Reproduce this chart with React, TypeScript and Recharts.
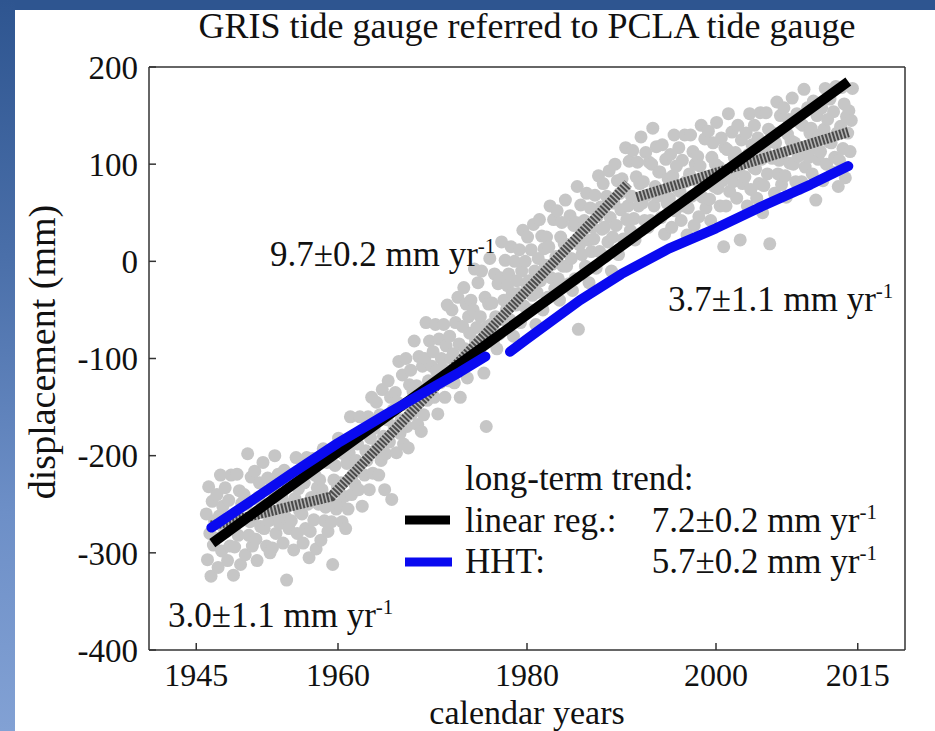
import React from 'react';
import { ComposedChart, XAxis, YAxis, Line, Scatter } from 'recharts';

const FONT = 'Liberation Serif, DejaVu Serif, Times New Roman, serif';

const titleText = 'GRIS tide gauge referred to PCLA tide gauge';
const xLabel = 'calendar years';
const yLabel = 'displacement (mm)';

const xTicks = [1945, 1960, 1980, 2000, 2015];
const yTicks = [-400, -300, -200, -100, 0, 100, 200];
const xDomain: [number, number] = [1940, 2020];
const yDomain: [number, number] = [-400, 200];

// GRIS relative sea level (mm), sampled evenly through each year
const gaugeByYear: [number, number[]][] = [
  [1946, [-260, -307, -232, -280, -324, -247, -292, -267]],
  [1947, [-285, -240, -315, -262, -220, -298, -252, -275]],
  [1948, [-233, -278, -308, -246, -293, -220, -268, -323]],
  [1949, [-294, -259, -219, -282, -236, -312, -249, -266]],
  [1950, [-240, -302, -250, -198, -282, -268, -222, -293]],
  [1951, [-263, -216, -286, -308, -243, -228, -273, -250]],
  [1952, [-207, -275, -253, -293, -223, -267, -300, -233]],
  [1953, [-295, -237, -200, -280, -260, -219, -270, -245]],
  [1954, [-243, -290, -215, -263, -328, -230, -275, -250]],
  [1955, [-267, -222, -297, -244, -202, -280, -234, -257]],
  [1956, [-215, -260, -290, -228, -275, -202, -250, -305]],
  [1957, [-278, -243, -203, -266, -220, -296, -233, -250]],
  [1958, [-225, -287, -235, -193, -267, -253, -207, -278]],
  [1959, [-245, -198, -268, -312, -225, -210, -255, -232]],
  [1960, [-182, -250, -228, -268, -198, -242, -275, -208]],
  [1961, [-255, -197, -160, -240, -220, -179, -230, -205]],
  [1962, [-188, -235, -160, -208, -252, -175, -220, -195]],
  [1963, [-205, -160, -235, -182, -140, -218, -172, -195]],
  [1964, [-145, -190, -220, -158, -205, -132, -180, -235]],
  [1965, [-198, -163, -123, -186, -140, -245, -153, -170]],
  [1966, [-135, -197, -145, -103, -177, -163, -117, -188]],
  [1967, [-147, -100, -170, -192, -127, -112, -157, -134]],
  [1968, [-82, -150, -128, -168, -98, -142, -175, -108]],
  [1969, [-158, -100, -63, -143, -123, -82, -133, -108]],
  [1970, [-93, -140, -65, -113, -157, -80, -125, -100]],
  [1971, [-110, -65, -140, -87, -45, -123, -77, -100]],
  [1972, [-50, -95, -125, -63, -110, -37, -85, -140]],
  [1973, [-102, -67, -27, -90, -44, -120, -57, -74]],
  [1974, [-40, -102, -50, -8, -82, -68, -22, -93]],
  [1975, [-57, -10, -80, -115, -37, -170, -67, -44]],
  [1976, [3, -65, -43, -83, -13, -57, -90, -23]],
  [1977, [-75, -17, 20, -60, -40, 1, -50, -25]],
  [1978, [-13, -60, 15, -33, -77, 0, -45, -20]],
  [1979, [-33, 12, -63, -10, 32, -46, 0, -23]],
  [1980, [25, -20, -50, 12, -35, 38, -10, -65]],
  [1981, [-32, 3, 43, -20, 26, -50, 13, -4]],
  [1982, [25, -37, 15, 57, -17, -3, 43, -28]],
  [1983, [5, 52, -18, -40, 25, 40, -5, 18]],
  [1984, [63, -5, 17, -23, 47, 3, -30, 37]],
  [1985, [-18, 40, 77, -70, 17, 58, 7, 32]],
  [1986, [42, -5, 70, 22, -22, 55, 10, 35]],
  [1987, [23, 68, -7, 46, 88, 10, 56, 33]],
  [1988, [80, 35, 5, 67, 20, 93, 45, -10]],
  [1989, [25, 60, 100, 37, 83, 7, 70, 53]],
  [1990, [85, 23, 75, 117, 43, 57, 103, 32]],
  [1991, [67, 114, 44, 22, 87, 102, 57, 80]],
  [1992, [128, 60, 82, 42, 112, 68, 35, 102]],
  [1993, [42, 100, 137, 57, 77, 118, 67, 92]],
  [1994, [92, 45, 120, 72, 28, 105, 60, 85]],
  [1995, [65, 110, 35, 88, 130, 52, 98, 75]],
  [1996, [117, 72, 42, 104, 57, 130, 82, 27]],
  [1997, [55, 90, 130, 67, 113, 37, 100, 83]],
  [1998, [108, 46, 98, 140, 66, 80, 126, 55]],
  [1999, [87, 134, 64, 42, 107, 122, 77, 100]],
  [2000, [143, 75, 97, 57, 127, 83, 15, 117]],
  [2001, [57, 115, 152, 72, 92, 133, 82, 107]],
  [2002, [112, 65, 140, 92, 22, 125, 80, 105]],
  [2003, [87, 132, 57, 110, 152, 74, 120, 97]],
  [2004, [140, 95, 65, 127, 80, 153, 105, 50]],
  [2005, [78, 113, 153, 90, 136, 18, 123, 106]],
  [2006, [132, 70, 122, 164, 90, 104, 150, 79]],
  [2007, [111, 158, 88, 66, 131, 146, 101, 124]],
  [2008, [168, 100, 122, 82, 152, 108, 75, 142]],
  [2009, [82, 140, 177, 97, 117, 158, 107, 132]],
  [2010, [137, 90, 165, 117, 63, 150, 105, 130]],
  [2011, [113, 158, 83, 136, 178, 100, 146, 123]],
  [2012, [167, 122, 92, 154, 107, 180, 132, 77]],
  [2013, [104, 139, 179, 116, 162, 86, 149, 132]],
  [2014, [155, 113, 145, 178]],
];

// Linear regression trend [year, mm]
const linearRegression: [number, number][] = [
  [1946.7, -290],
  [2014.0, 185],
];

// HHT trend [year, mm]; null marks the data gap
const hhtTrend: [number, number | null][] = [
  [1946.6, -274], [1950, -252], [1955, -219], [1960, -187], [1965, -158],
  [1970, -130], [1972.9, -114], [1975.6, -98], [1976.9, null],
  [1978.2, -93], [1980, -80], [1985.6, -40], [1990, -13], [1995, 13],
  [2000, 34], [2004.5, 55], [2010, 79], [2014, 98],
];

// Piecewise linear fit [year, mm]; null marks the break
const piecewiseTrend: [number, number | null][] = [
  [1946.6, -272], [1959.3, -242], [1990.7, 80], [1991.1, null],
  [1991.6, 66], [2014.0, 133],
];

const toRows = (arr: [number, number | null][]) => arr.map(([t, v]) => ({ t, v }));
const gaugeRows = gaugeByYear.flatMap(([year, vals]) =>
  vals.map((v, i) => ({ t: year + (i + 0.5) / 8, v }))
);

const axisStroke = { stroke: '#333', strokeWidth: 1.5 };
const xTickStyle = { fontSize: 32, fill: '#111', fontFamily: FONT };
const yTickStyle = { fontSize: 33, fill: '#111', fontFamily: FONT };

const GrayDot = (p: any) =>
  p.cx == null || p.cy == null ? null : <circle cx={p.cx} cy={p.cy} r={6.5} fill="#c6c6c6" />;

const Sup = ({ children }: { children: React.ReactNode }) => (
  <tspan dy={-13} fontSize={21}>{children}</tspan>
);

const layer: React.CSSProperties = { position: 'absolute', left: 0, top: 0 };

export default function App() {
  return (
    <div style={{ position: 'absolute', left: 0, top: 0, width: 935, height: 731, background: '#fff', overflow: 'hidden' }}>
      <div style={{ position: 'absolute', left: 0, top: 0, width: 935, height: 10, background: '#2e5590' }} />
      <div
        style={{
          position: 'absolute', left: 0, top: 0, width: 15, height: 731,
          background: 'linear-gradient(to bottom, #2e5590 0%, #4a6fa9 35%, #6d8fc7 70%, #82a1d4 100%)',
        }}
      />
      {/* gauge samples (drawn beneath the trend lines) */}
      <div style={layer}>
        <ComposedChart width={935} height={731} margin={{ top: 67, right: 30, bottom: 81, left: 149 }}>
          <XAxis xAxisId="b" type="number" dataKey="t" domain={xDomain} allowDataOverflow hide />
          <YAxis yAxisId="l" type="number" domain={yDomain} allowDataOverflow hide />
          <Scatter
            xAxisId="b" yAxisId="l" data={gaugeRows} dataKey="v"
            shape={GrayDot} isAnimationActive={false}
          />
        </ComposedChart>
      </div>
      <div style={layer}>
        <ComposedChart width={935} height={731} margin={{ top: 66, right: 29, bottom: 21, left: 49 }}>
          <XAxis
            xAxisId="b" type="number" dataKey="t" orientation="bottom" domain={xDomain} ticks={xTicks}
            interval={0} allowDataOverflow height={60} tickSize={-7} tickMargin={20.5}
            axisLine={axisStroke} tickLine={axisStroke} tick={xTickStyle}
          />
          <XAxis
            xAxisId="t" type="number" dataKey="t" orientation="top" domain={xDomain} ticks={xTicks}
            interval={0} allowDataOverflow height={1} tickSize={-7}
            axisLine={axisStroke} tickLine={axisStroke} tick={false}
          />
          <YAxis
            yAxisId="l" type="number" orientation="left" domain={yDomain} ticks={yTicks}
            interval={0} allowDataOverflow width={100} tickSize={-7} tickMargin={18}
            axisLine={axisStroke} tickLine={axisStroke} tick={yTickStyle}
          />
          <YAxis
            yAxisId="r" type="number" orientation="right" domain={yDomain} ticks={yTicks}
            interval={0} allowDataOverflow width={1} tickSize={-7}
            axisLine={axisStroke} tickLine={axisStroke} tick={false}
          />
          <Line
            xAxisId="b" yAxisId="l" data={toRows(piecewiseTrend)} dataKey="v" type="linear"
            stroke="#b4b4b4" strokeWidth={10} dot={false} activeDot={false} connectNulls={false}
            isAnimationActive={false}
          />
          <Line
            xAxisId="b" yAxisId="l" data={toRows(piecewiseTrend)} dataKey="v" type="linear"
            stroke="#4a4a4a" strokeWidth={10} strokeDasharray="2 1.6" dot={false} activeDot={false}
            connectNulls={false} isAnimationActive={false}
          />
          <Line
            xAxisId="b" yAxisId="l" data={toRows(linearRegression)} dataKey="v" type="linear"
            stroke="#000" strokeWidth={10} dot={false} activeDot={false} isAnimationActive={false}
          />
          <Line
            xAxisId="b" yAxisId="l" data={toRows(hhtTrend)} dataKey="v" type="linear"
            stroke="#0a0af0" strokeWidth={10} strokeLinecap="round" strokeLinejoin="round"
            dot={false} activeDot={false} connectNulls={false} isAnimationActive={false}
          />
        </ComposedChart>
      </div>
      <svg width={935} height={731} style={{ position: 'absolute', left: 0, top: 0, pointerEvents: 'none' }}>
        <g fontFamily={FONT} fill="#111">
          <text x={527} y={38} fontSize={36} textAnchor="middle">{titleText}</text>
          <text x={527} y={723.5} fontSize={34} textAnchor="middle">{xLabel}</text>
          <text x={55} y={352} fontSize={38} textAnchor="middle" transform="rotate(-90 55 352)">{yLabel}</text>

          <text x={270} y={266} fontSize={35}>9.7±0.2 mm yr<Sup>-1</Sup></text>
          <text x={668} y={311} fontSize={35}>3.7±1.1 mm yr<Sup>-1</Sup></text>
          <text x={168} y={627} fontSize={35}>3.0±1.1 mm yr<Sup>-1</Sup></text>

          <text x={465} y={490} fontSize={35}>long-term trend:</text>
          <line x1={405} x2={450} y1={520} y2={520} stroke="#000" strokeWidth={9} />
          <text x={465} y={532} fontSize={35}>linear reg.:</text>
          <text x={877} y={532} fontSize={35} textAnchor="end">7.2±0.2 mm yr<Sup>-1</Sup></text>
          <line x1={405} x2={452} y1={562} y2={562} stroke="#0a0af0" strokeWidth={9} />
          <text x={465} y={573} fontSize={35}>HHT:</text>
          <text x={877} y={573} fontSize={35} textAnchor="end">5.7±0.2 mm yr<Sup>-1</Sup></text>
        </g>
      </svg>
    </div>
  );
}
